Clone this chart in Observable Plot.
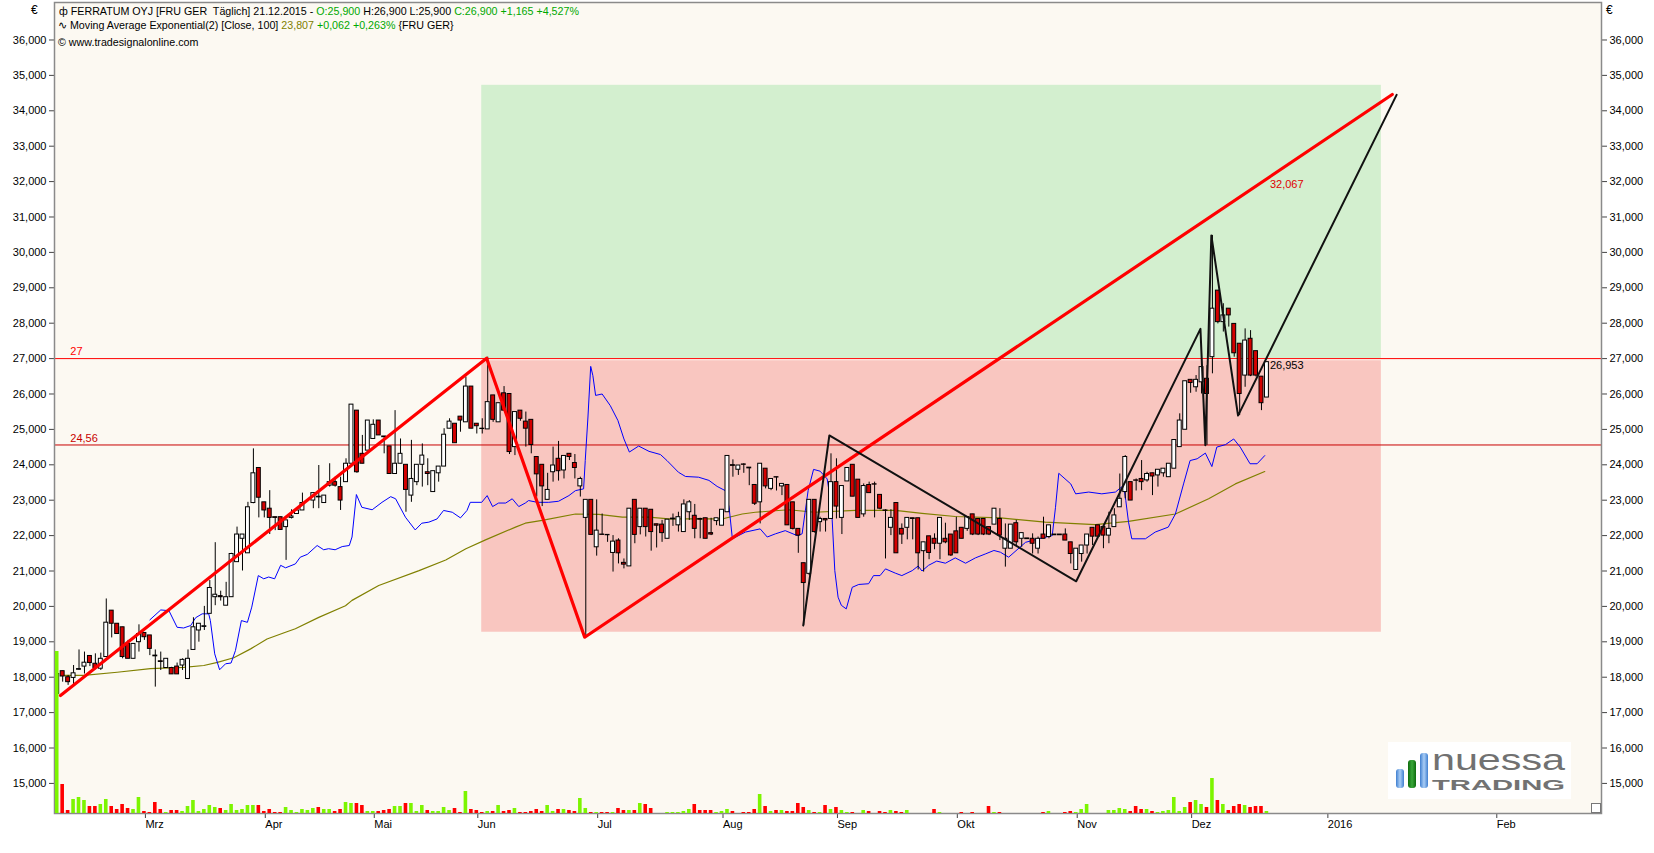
<!DOCTYPE html>
<html>
<head>
<meta charset="utf-8">
<script src="https://cdn.jsdelivr.net/npm/d3@7"></script>
<script src="https://cdn.jsdelivr.net/npm/@observablehq/plot@0.6"></script>
<style>
  body { margin: 0; background: #fff; font-family: "Liberation Sans", Arial, sans-serif; }
  #chart { position: relative; width: 1654px; height: 853px; overflow: hidden; }
  #chart > svg { position: absolute; left: 0; top: 0; }
  .hdr { position: absolute; font-size: 10.7px; line-height: 13px; white-space: pre; color: #000; }
  .g { color: #00a800; }
  .o { color: #808000; }
  .eur { position: absolute; font-size: 12px; color: #000; }
  #logo { position: absolute; left: 1388px; top: 730px; }
  #corner { position: absolute; left: 1591px; top: 803px; width: 8px; height: 8px; border: 1px solid #777; background: #fff; }
</style>
</head>
<body>
<div id="chart">
  <div class="eur" style="left:31px;top:3px">€</div>
  <div class="eur" style="left:1606px;top:3px">€</div>
  <div class="hdr" style="left:59px;top:5px">ф FERRATUM OYJ [FRU GER  Täglich] 21.12.2015 - <span class="g">O:25,900</span> H:26,900 L:25,900 <span class="g">C:26,900 +1,165 +4,527%</span></div>
  <div class="hdr" style="left:58px;top:19px">∿ Moving Average Exponential(2) [Close, 100] <span class="o">23,807</span> <span class="g">+0,062 +0,263%</span> {FRU GER}</div>
  <div class="hdr" style="left:58px;top:36px">© www.tradesignalonline.com</div>
</div>
<script>
// FERRATUM OYJ daily candles, Feb 2015 – 21.12.2015 (x = bar number)
const open = [
  17.53,18.17,18.00,17.98,18.21,18.30,18.60,18.38,18.24,18.57,
  19.88,19.51,19.41,18.94,18.52,18.99,19.25,19.18,18.61,18.45,
  18.26,18.26,18.30,18.33,17.95,18.77,19.32,19.42,19.79,20.26,
  20.29,20.02,20.26,21.25,21.91,21.50,22.92,23.91,22.94,22.76,
  22.52,22.52,22.24,22.50,22.61,22.71,null,22.99,23.10,22.92,
  23.41,23.51,23.37,23.51,24.03,25.53,24.31,24.40,24.73,25.25,
  24.80,24.52,23.74,24.03,24.00,23.13,23.51,24.00,23.79,23.23,
  23.76,23.95,25.02,25.16,25.36,25.20,26.21,25.16,25.02,25.00,
  25.96,25.20,26.02,26.00,24.50,25.53,25.22,25.27,24.22,24.00,
  23.01,23.79,24.17,23.84,24.31,24.05,23.39,22.50,23.01,21.67,
  22.03,22.02,21.51,21.86,21.23,21.13,23.01,22.24,22.76,22.73,
  22.32,22.31,21.91,22.46,22.29,22.10,22.66,22.56,22.47,22.49,
  22.07,22.41,22.28,22.66,23.99,23.86,24.01,23.92,23.43,22.94,
  23.89,23.32,23.65,23.39,23.43,22.94,22.19,21.22,20.92,23.01,
  22.38,22.47,22.47,23.51,22.50,23.53,24.00,23.58,22.60,23.43,
  23.45,23.15,22.71,22.22,22.92,22.19,22.22,22.49,22.49,21.56,
  21.98,21.91,21.77,21.91,22.03,22.12,22.22,22.19,22.60,22.47,
  22.47,22.24,22.31,22.47,21.63,21.63,22.35,21.91,21.92,21.91,
  21.63,22.03,21.96,22.03,22.03,22.03,21.81,21.03,21.48,21.72,
  22.22,22.29,22.24,22.00,22.24,22.80,23.23,23.51,23.56,23.60,
  23.56,23.76,23.70,23.76,23.65,23.89,24.50,24.99,26.40,26.19,
  26.33,26.43,27.04,28.92,28.03,28.41,27.98,27.42,26.52,27.56,
  27.21,26.49,25.90
];
const high = [
  18.36,18.17,18.05,18.33,18.77,18.71,18.60,18.66,18.68,20.21,
  19.88,19.51,19.41,19.04,18.94,19.48,19.25,19.18,18.77,18.71,
  18.52,18.28,18.40,18.52,18.77,19.68,19.51,20.00,20.73,21.80,
  20.43,20.68,21.50,22.24,22.03,22.94,24.45,23.91,22.94,23.27,
  22.52,22.52,22.43,22.73,22.71,23.20,null,23.20,23.98,23.13,
  24.03,23.65,23.65,24.17,25.70,25.53,24.83,25.25,25.27,25.25,
  24.80,24.52,25.53,24.73,24.00,24.69,24.00,24.59,24.17,23.82,
  23.95,25.02,25.30,25.16,25.36,26.48,26.21,25.16,25.30,27.04,
  25.96,25.74,26.21,26.00,25.49,25.53,25.49,25.27,24.22,24.00,
  23.76,24.50,24.66,24.25,24.31,24.29,23.65,23.01,23.01,23.01,
  22.61,22.02,22.00,21.91,21.34,22.76,23.01,22.76,22.76,22.73,
  22.32,22.43,22.45,22.61,22.66,23.01,22.99,22.88,22.49,22.49,
  22.49,22.49,22.73,24.25,24.14,23.98,24.03,23.92,23.43,24.03,
  23.89,23.60,23.65,23.46,23.43,22.94,22.19,21.22,23.01,23.01,
  22.52,22.47,24.31,24.17,23.40,23.91,24.00,23.58,23.46,23.51,
  23.51,23.15,22.73,22.73,22.92,22.33,22.50,22.49,22.49,21.81,
  21.98,22.05,22.50,22.35,22.03,22.52,22.22,22.52,22.60,22.47,
  22.47,22.24,22.76,22.76,22.33,22.31,22.43,22.07,21.92,22.05,
  21.96,22.52,22.29,22.03,22.03,22.19,21.81,21.63,21.72,22.03,
  22.22,22.29,22.24,22.66,22.76,23.74,24.26,23.51,23.60,24.12,
  23.79,23.76,23.86,23.89,24.03,24.70,25.44,26.36,26.40,26.52,
  27.13,26.80,30.48,28.92,28.55,28.41,27.98,27.42,27.84,27.79,
  27.21,26.49,26.90
];
const low = [
  17.53,17.86,17.77,17.77,18.19,18.09,18.30,18.21,18.19,18.57,
  19.11,19.22,18.52,18.52,18.52,18.71,19.04,18.61,17.72,18.19,
  18.26,18.08,18.08,18.19,17.93,18.77,18.99,19.32,19.79,20.02,
  20.15,20.02,20.26,21.25,21.00,21.50,22.90,22.50,22.50,22.03,
  22.14,22.16,21.30,22.47,22.61,22.71,null,22.76,22.76,22.92,
  23.37,23.37,22.71,23.51,24.03,23.76,24.03,24.40,24.73,24.83,
  24.31,23.74,23.74,24.03,22.66,22.94,23.41,23.37,23.41,23.23,
  23.51,23.95,25.02,24.61,24.92,25.20,25.02,24.87,24.87,25.00,
  25.20,25.20,25.53,24.29,24.26,25.23,24.50,24.31,23.09,22.82,
  23.01,23.51,23.54,23.60,24.12,23.60,23.09,19.13,22.02,21.42,
  22.02,21.81,20.97,21.20,21.06,21.13,21.77,22.02,21.96,21.56,
  21.65,21.81,21.91,22.26,22.10,22.10,22.43,21.91,21.91,21.91,
  22.00,22.28,22.28,22.66,23.65,23.70,23.76,23.41,22.85,22.33,
  23.32,23.27,23.26,23.13,22.29,22.16,21.50,19.46,20.87,22.07,
  22.10,22.10,22.47,22.47,22.03,23.53,23.10,22.50,22.52,23.20,
  22.50,22.73,21.34,22.00,21.50,21.75,21.88,21.88,21.03,20.97,
  21.32,21.60,21.32,21.77,21.41,21.50,21.91,22.12,22.00,22.00,
  22.00,22.00,22.31,21.86,21.11,21.63,21.72,21.67,21.90,21.48,
  21.48,21.91,21.91,22.01,22.01,21.86,21.20,21.03,21.25,21.48,
  21.72,21.97,21.63,21.77,22.24,22.80,23.04,22.99,23.26,23.27,
  23.51,23.13,23.37,23.65,23.65,23.89,24.50,24.99,26.02,26.05,
  26.00,24.55,26.57,27.98,27.75,27.89,27.04,25.39,26.19,26.49,
  26.48,25.53,25.90
];
const close = [
  18.09,18.02,17.86,18.11,18.23,18.41,18.40,18.26,18.52,19.54,
  19.51,19.22,18.57,18.52,18.94,19.22,19.13,18.80,18.59,18.43,
  18.52,18.08,18.08,18.49,18.52,19.41,19.51,19.44,20.52,20.33,
  20.26,20.26,21.48,22.03,22.03,22.80,23.76,23.07,22.71,22.50,
  22.50,22.16,22.43,22.54,22.71,22.92,null,23.20,23.08,23.13,
  23.51,23.41,22.99,24.03,25.70,23.79,24.03,25.25,25.13,24.83,
  24.78,23.74,24.03,24.31,23.29,23.60,24.00,24.26,23.74,23.82,
  23.95,24.85,25.22,24.61,25.25,26.21,25.02,25.09,25.01,25.77,
  25.27,25.74,25.53,24.36,25.49,25.30,25.02,24.56,23.73,23.39,
  23.29,23.98,23.82,24.25,24.22,23.91,23.60,23.01,22.02,22.14,
  22.02,22.01,21.83,21.50,21.18,22.76,22.02,22.76,22.24,22.10,
  22.28,22.07,22.45,22.48,22.52,22.88,22.94,22.19,22.45,21.91,
  22.03,22.49,22.73,24.25,23.97,23.98,24.00,23.90,22.90,24.03,
  23.39,23.60,23.64,23.46,22.29,22.19,22.00,20.66,23.01,22.10,
  22.47,22.43,23.51,22.82,23.40,23.91,23.10,22.50,23.40,23.20,
  23.44,22.76,22.70,22.50,21.50,22.03,22.50,22.47,21.50,21.81,
  21.51,21.77,22.50,21.81,21.44,21.50,21.91,22.52,22.03,22.03,
  22.03,22.03,22.76,22.00,21.91,22.31,21.81,22.07,21.90,21.77,
  21.91,21.91,22.29,22.01,22.01,21.86,21.48,21.63,21.72,22.03,
  21.97,21.97,22.00,22.19,22.57,23.04,24.22,22.99,23.55,23.51,
  23.74,23.67,23.86,23.89,24.03,24.70,25.25,26.36,26.31,26.40,
  26.76,26.00,28.41,28.03,28.22,28.22,27.15,26.00,27.51,26.52,
  26.52,25.74,26.90
];
// volume, relative units
const volume = [
  162,29,3,14,16,13,7,7,9,14,
  7,4,9,5,4,16,2,1,11,4,
  1,3,3,2,7,13,2,4,8,6,
  5,3,9,3,4,8,8,8,2,4,
  1,1,6,3,1,4,3,5,6,4,
  4,2,4,11,10,10,8,2,2,2,
  3,4,7,7,10,10,2,8,3,2,
  2,6,3,5,1,22,4,3,1,2,
  2,8,2,3,5,1,1,2,4,2,
  8,2,4,4,3,2,15,5,1,1,
  1,1,1,5,3,3,3,10,9,5,
  0,0,1,1,1,2,4,9,3,3,
  3,1,2,4,2,0,1,1,4,19,
  7,2,3,3,2,2,10,6,3,1,
  1,8,4,6,3,1,1,0,3,2,
  0,2,1,3,2,1,3,0,0,0,
  0,4,1,0,0,0,1,0,1,0,
  0,7,1,1,0,0,0,0,0,0,
  0,1,2,0,0,1,2,1,4,9,
  0,0,0,3,3,5,4,2,7,4,
  4,2,1,2,3,16,2,6,11,13,
  9,6,35,13,9,3,7,9,8,6,
  7,7,2
];

// blue indicator line (bar, value)
const blueX = [17,19,20.5,22,23.2,24.5,25.4,26.6,27.8,28.1,28.9,29.8,30.9,31.9,32.7,33.8,34.9,35.7,36.9,37.9,38.8,39.9,41,41.9,43.7,44.6,45.9,47.7,48.9,49.8,51,52.3,53.6,54.1,54.9,55.9,57.8,59.6,61.2,62.1,63.9,65.7,66.9,68.2,69.7,70.9,72.5,74,75.2,75.8,77.9,78.9,79.9,81,82.3,83.5,84.7,85.9,86.5,88.1,90.2,92,93.9,95.1,96.6,96.9,97.4,97.9,98.3,98.8,100,101.5,102.9,104,105,106.7,108.6,110.7,111.9,114,115.3,117.7,119.6,121.1,122.6,123.3,123.9,126.3,129,130.3,131.8,133.6,135.8,136.7,137.8,138.8,140,141.3,142.1,142.7,143.3,143.9,144.8,145.9,147.1,148.9,149.8,151,152,153.8,155,156.9,158,158.7,159.9,161.4,163,164.8,166.7,168.5,170.3,171.9,173.1,174.6,177.7,180.1,182.6,183.2,183.8,186,186.9,189.3,191.7,194.2,195.7,196.1,196.6,197.2,199.7,201.5,203.9,205.2,206.7,207.9,209.2,210.7,211.9,212.8,214.4,215.9,217.1,218.9,220.2,221.6];
const blueY = [19.62,19.90,19.88,19.41,19.39,19.46,19.68,19.79,19.79,19.60,18.66,18.21,18.38,18.40,18.75,19.60,19.55,19.98,20.87,20.78,20.83,20.78,21.16,21.09,21.20,21.39,21.47,21.72,21.60,21.63,21.60,21.69,21.72,21.96,23.16,22.80,22.73,22.94,23.10,23.04,22.52,22.16,22.35,22.38,22.47,22.71,22.66,22.50,22.71,22.94,22.94,23.13,22.82,22.92,22.92,23.04,22.82,22.92,22.99,22.94,22.94,22.97,23.13,23.27,23.32,24.12,25.35,26.78,26.52,25.96,26.00,25.67,25.25,24.73,24.36,24.53,24.38,24.29,24.12,23.79,23.67,23.65,23.56,23.39,23.27,22.80,21.91,22.10,22.19,21.96,22.05,22.14,22.00,22.05,23.27,23.87,23.82,23.60,22.80,21.01,20.26,20.03,19.93,20.54,20.62,20.64,20.87,20.87,21.06,20.94,20.87,21.01,21.14,21.00,21.16,21.28,21.22,21.37,21.22,21.37,21.48,21.58,21.53,21.39,21.81,21.91,22.00,22.80,23.76,23.46,23.18,23.23,23.18,23.23,23.42,22.99,22.38,21.91,21.91,22.10,22.24,22.61,23.46,24.12,24.17,24.33,23.95,24.50,24.57,24.73,24.50,24.03,24.03,24.26];

// Moving Average Exponential [Close, 100]
const emaX = [0.9,4.9,11,17.1,23.2,26.9,29.4,32.4,35.5,38.5,41.9,43.7,48,52.9,54.1,59,66.4,71.3,75,78.6,84.1,85.9,89,95.1,99.4,103.7,108.6,112.2,117.1,122,125.7,128.1,134.2,139,146.5,153.8,158.7,164.8,173.1,181.3,190.5,196.6,205.2,211.3,216.2,221.6];
const emaY = [18.05,18.05,18.14,18.24,18.28,18.33,18.42,18.55,18.80,19.08,19.27,19.37,19.69,20.02,20.17,20.59,21.01,21.31,21.63,21.88,22.24,22.35,22.43,22.61,22.60,22.52,22.52,22.47,22.47,22.47,22.61,22.66,22.73,22.66,22.71,22.71,22.63,22.54,22.50,22.38,22.31,22.40,22.61,23.04,23.46,23.81];

// drawing objects
const redZigX = [0.6, 78.8, 96.8, 245.0];
const redZigY = [17.48, 27.01, 19.13, 34.46];
const blackZigX = [136.9, 141.7, 187.0, 209.8, 210.7, 211.8, 216.7, 245.8];
const blackZigY = [19.46, 24.83, 20.71, 27.84, 24.55, 30.48, 25.39, 34.45];
const zoneX = [77.9, 243.0];
const greenZoneY = [27.0, 34.72];
const redZoneY = [19.27, 26.94];
const levels = [27, 24.56];
const levelLabels = ["27", "24,56"];
const levelColors = ["#ff0000", "#c80000"];
const levelLabelX = 2.4;
const lastBar = 222;
const targetValues = [32.067, 26.953];
const targetLabels = ["32,067", "26,953"];
const targetColors = ["#e00000", "#000000"];

// axes
const yTicks = d3.range(15, 37);
const monthIdx = [16, 38, 58, 77, 99, 122, 143, 165, 187, 208, 233, 264];
const monthLabels = ["Mrz", "Apr", "Mai", "Jun", "Jul", "Aug", "Sep", "Okt", "Nov", "Dez", "2016", "Feb"];

const W = 1654, H = 853;
const M = { marginLeft: 54, marginRight: 53, marginTop: 2, marginBottom: 40 };
const xDomain = [-0.5, 283.4];
const fmt = v => v.toFixed(3).replace(".", ",");

const candles = open.map((o, i) => ({ i, o, h: high[i], l: low[i], c: close[i] })).filter(d => d.o != null);
const vols = volume.map((v, i) => ({ i, v, up: close[i] == null || close[i] >= open[i] }));
const blue = blueX.map((x, k) => ({ x, y: blueY[k] }));
const ema = emaX.map((x, k) => ({ x, y: emaY[k] }));
const redZig = redZigX.map((x, k) => ({ x, y: redZigY[k] }));
const blackZig = blackZigX.map((x, k) => ({ x, y: blackZigY[k] }));
const zones = [
  { x1: zoneX[0], x2: zoneX[1], y1: greenZoneY[0], y2: greenZoneY[1], fill: "#d3efcf" },
  { x1: zoneX[0], x2: zoneX[1], y1: redZoneY[0], y2: redZoneY[1], fill: "#f9c6c0" }
];
const lvl = levels.map((y, k) => ({ y, label: levelLabels[k], color: levelColors[k] }));
const targets = targetValues.map((y, k) => ({ y, label: targetLabels[k], color: targetColors[k] }));

const price = Plot.plot({
  width: W, height: H, ...M,
  x: { domain: xDomain, axis: null },
  y: { domain: [14.15, 37.059], axis: null },
  style: { fontFamily: "Liberation Sans, Arial, sans-serif", fontSize: "11px", background: "transparent", color: "#000" },
  marks: [
    Plot.frame({ fill: "#fcf9f2" }),
    Plot.rect(zones, { x1: "x1", x2: "x2", y1: "y1", y2: "y2", fill: "fill" }),
    Plot.ruleY(lvl, { y: "y", stroke: "color", strokeWidth: 1 }),
    Plot.text(lvl, { x: () => levelLabelX, y: "y", text: "label", fill: "color", textAnchor: "start", dy: -7 }),
    Plot.line(ema, { x: "x", y: "y", stroke: "#808000", strokeWidth: 1.2 }),
    Plot.line(blue, { x: "x", y: "y", stroke: "#0000ff", strokeWidth: 1 }),
    Plot.ruleX(candles, { x: "i", y1: "l", y2: "h", stroke: "#000", strokeWidth: 1 }),
    Plot.rect(candles, {
      x1: d => d.i - 0.36, x2: d => d.i + 0.36, y1: "o", y2: "c",
      fill: d => d.c >= d.o ? "#ffffff" : "#d40000", stroke: "#000", strokeWidth: 1
    }),
    Plot.line(redZig, { x: "x", y: "y", stroke: "#ff0000", strokeWidth: 3.2 }),
    Plot.line(blackZig, { x: "x", y: "y", stroke: "#111", strokeWidth: 2 }),
    Plot.text(targets, { x: () => lastBar, y: "y", text: "label", fill: "color", textAnchor: "start", dx: 3, dy: 5 }),
    Plot.axisY({ anchor: "left", ticks: yTicks, tickFormat: fmt, tickSize: 5, tickPadding: 3, stroke: "#444", label: null }),
    Plot.axisY({ anchor: "right", ticks: yTicks, tickFormat: fmt, tickSize: 5, tickPadding: 3, stroke: "#444", label: null }),
    Plot.axisX({ anchor: "bottom", ticks: monthIdx, tickFormat: d => monthLabels[monthIdx.indexOf(d)], tickSize: 5, tickPadding: 2, textAnchor: "start", dx: 1, stroke: "#444", label: null }),
    Plot.frame({ stroke: "#8a8a8a", strokeWidth: 1.5 })
  ]
});

const vol = Plot.plot({
  width: W, height: H, ...M,
  x: { domain: xDomain, axis: null },
  y: { domain: [0, H - M.marginTop - M.marginBottom], axis: null },
  style: { background: "transparent" },
  marks: [
    Plot.rectY(vols, { x1: d => d.i - 0.33, x2: d => d.i + 0.33, y: "v", fill: d => d.up ? "#7cf500" : "#ff0000" })
  ]
});

const chart = document.getElementById("chart");
chart.insertBefore(vol, chart.firstChild);
chart.insertBefore(price, chart.firstChild);

// logo
const logo = document.createElement("div");
logo.id = "logo";
logo.innerHTML = `<svg width="183" height="72" xmlns="http://www.w3.org/2000/svg">
  <defs>
    <linearGradient id="bl" x1="0" x2="1"><stop offset="0" stop-color="#3f7fd0"/><stop offset="0.5" stop-color="#a9cdf5"/><stop offset="1" stop-color="#3f7fd0"/></linearGradient>
    <linearGradient id="gr" x1="0" x2="1"><stop offset="0" stop-color="#0d6b0d"/><stop offset="0.5" stop-color="#39a839"/><stop offset="1" stop-color="#0d6b0d"/></linearGradient>
  </defs>
  <rect y="12" width="183" height="57" fill="#fff"/>
  <rect x="8" y="39" width="8" height="19" rx="3" fill="url(#bl)"/>
  <rect x="20" y="30" width="8" height="28" rx="3" fill="url(#gr)"/>
  <rect x="32" y="23" width="8" height="35" rx="3" fill="url(#bl)"/>
  <text x="44" y="40" fill="#717171" font-family="Liberation Sans, Arial" font-size="30" textLength="133" lengthAdjust="spacingAndGlyphs">nuessa</text>
  <text x="44" y="60" fill="#727272" font-family="Liberation Sans, Arial" font-size="15.5" font-weight="bold" textLength="133" lengthAdjust="spacingAndGlyphs">TRADING</text>
</svg>`;
chart.appendChild(logo);
const corner = document.createElement("div");
corner.id = "corner";
chart.appendChild(corner);
</script>
</body>
</html>
